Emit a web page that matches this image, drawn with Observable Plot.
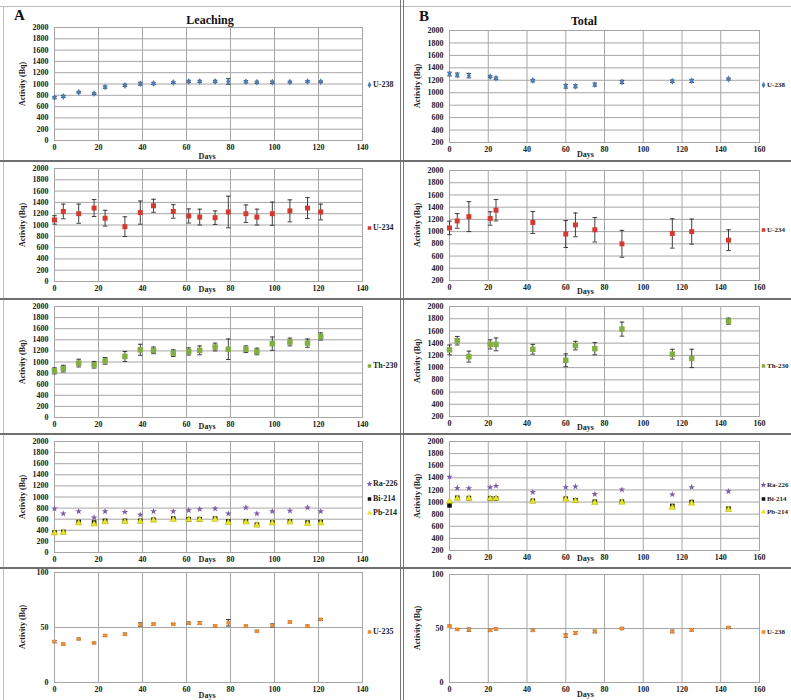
<!DOCTYPE html>
<html><head><meta charset="utf-8">
<script src="https://cdn.jsdelivr.net/npm/d3@7"></script>
<script src="https://cdn.jsdelivr.net/npm/@observablehq/plot@0.6"></script>
<style>
body{margin:0;background:#fff;}
#wrap{position:relative;width:791px;height:700px;overflow:hidden;background:#fff;font-family:"Liberation Serif","Times New Roman",serif;}
.t{position:absolute;font-weight:bold;color:#111;white-space:nowrap;line-height:1;}
.leg{position:absolute;font-size:8px;font-weight:bold;color:#222;white-space:nowrap;line-height:10px;transform:translateY(-50%);}
.leg svg{vertical-align:middle;margin-right:1px;}
.ylab{position:absolute;font-size:8px;font-weight:bold;color:#222;white-space:nowrap;transform:translate(-50%,-50%) rotate(-90deg);}
.days{position:absolute;font-size:8px;font-weight:bold;color:#222;transform:translate(-50%,-50%);}
.ln{position:absolute;}
</style></head><body><div id="wrap"></div>
<script>
// ---------- data ----------
const leachDays = [0,4,11,18,23,32,39,45,54,61,66,73,79,87,92,99,107,115,121];
const totalDays = [0,4,10,21,24,43,60,65,75,89,115,125,144];

const leachU238 = [760,780,855,830,945,975,1005,1010,1025,1045,1045,1045,1045,1040,1030,1030,1035,1045,1040];
const leachU238Err = [20,20,15,15,20,20,25,20,15,20,20,20,50,20,20,20,15,15,15];
const totalU238 = [1300,1285,1275,1258,1232,1195,1104,1104,1130,1173,1184,1190,1221];
const totalU238Err = [30,30,35,15,20,20,30,25,25,25,20,25,15];

const leachU234 = [1090,1240,1200,1300,1120,970,1220,1340,1240,1160,1140,1130,1230,1200,1140,1200,1250,1300,1230];
const leachU234Err = [75,130,170,150,140,175,205,115,120,125,140,120,280,155,140,205,195,185,140];
const totalU234 = [1060,1175,1245,1215,1350,1150,960,1110,1030,800,970,1000,860];
const totalU234Err = [110,120,245,110,175,180,220,195,200,220,240,205,170];

const leachTh230 = [840,880,980,950,1020,1100,1220,1210,1160,1190,1210,1270,1230,1230,1190,1330,1360,1340,1460];
const leachTh230Err = [55,60,70,60,60,90,100,60,60,65,80,70,185,60,60,120,70,75,65];
const totalTh230 = [1290,1440,1180,1380,1380,1300,1120,1360,1310,1630,1220,1150,1760];
const totalTh230Err = [80,70,90,75,105,80,105,70,100,115,80,150,50];

const leachRa226 = [790,700,740,630,740,730,680,740,740,760,780,790,700,810,700,740,750,810,740];
const leachBi214 = [360,370,550,540,570,570,570,590,610,600,600,610,560,560,500,540,560,540,550];
const leachPb214 = [350,360,530,510,550,555,560,580,590,590,590,595,540,545,490,530,545,520,530];
const totalRa226 = [1415,1230,1225,1245,1265,1165,1245,1255,1130,1205,1125,1245,1175];
const totalBi214 = [945,1070,1065,1060,1060,1020,1055,1030,1005,1005,935,1000,890];
const totalPb214 = [1010,1060,1060,1055,1060,1010,1045,1020,990,995,910,980,875];

const leachU235 = [37.2,34.8,39.6,36,42.7,43.9,52.7,53,53,54,54,51.5,54.3,51.2,46.6,51.8,54.9,51.2,57.3];
const leachU235Err = [1,1,0.8,0.8,0.8,1,1.5,1,0.8,1,1.2,1,3,1,0.8,1.5,1,1,0.8];
const totalU235 = [52.2,49.2,48.9,48.3,49.5,48.3,43.4,46,47.2,50,47.2,48.8,50.9];
const totalU235Err = [1,0.8,1.5,1,1,1,1.5,1.2,1.2,1,1.2,1.2,0.8];

const leachXTicks = [0,20,40,60,80,100,120,140];
const totalXTicks = [0,20,40,60,80,100,120,140,160];
const yTicksLeach = [0,200,400,600,800,1000,1200,1400,1600,1800,2000];
const yTicksTotal = [200,400,600,800,1000,1200,1400,1600,1800,2000];
const yTicksU235 = [0,50,100];

const titles = {A: "Leaching", B: "Total"};
const yLabel = "Activity (Bq)";
const xLabel = "Days";

// ---------- styles ----------
const C = {
  u238: "#4a7ebb", u234: "#d43a30", th230: "#84ad45", ra226: "#7b5ea7",
  bi214: "#111111", pb214: "#e6e62a", u235: "#f08a2e"
};
const capSymbol = {draw(ctx, size){ const r = Math.sqrt(size/Math.PI); ctx.moveTo(-r,0); ctx.lineTo(r,0); }};
const FONT = '"Liberation Serif","Times New Roman",serif';

const wrap = document.getElementById("wrap");
function add(html){ wrap.insertAdjacentHTML("beforeend", html); }

const cols = {
  A: {left: 0, width: 400, ml: 54, mr: 38, xMax: 140, xTicks: leachXTicks, days: leachDays, legX: 367, legFont: 8},
  B: {left: 405, width: 386, ml: 44, mr: 32, xMax: 160, xTicks: totalXTicks, days: totalDays, legX: 761, legFont: 7}
};

const rows = [
  {st: 8, sh: 150, A: {pt: 27, pb: 140, daysDy: 16}, B: {pt: 30, pb: 142, daysDy: 12},
   yA: [0,2000], yB: [200,2000], tA: yTicksLeach, tB: yTicksTotal,
   A_s: [{name:"U-238", v: leachU238, e: leachU238Err, c: C.u238, sym:"diamond", r:2.1}],
   B_s: [{name:"U-238", v: totalU238, e: totalU238Err, c: C.u238, sym:"diamond", r:2.1}],
   legA: [85], legB: [85]},
  {st: 163, sh: 134, A: {pt: 168, pb: 281, daysDy: 8}, B: {pt: 170, pb: 280, daysDy: 11},
   yA: [0,2000], yB: [200,2000], tA: yTicksLeach, tB: yTicksTotal,
   A_s: [{name:"U-234", v: leachU234, e: leachU234Err, c: C.u234, sym:"square", r:2.8}],
   B_s: [{name:"U-234", v: totalU234, e: totalU234Err, c: C.u234, sym:"square", r:2.8}],
   legA: [228], legB: [230]},
  {st: 300, sh: 132, A: {pt: 306, pb: 417, daysDy: 9}, B: {pt: 306, pb: 416, daysDy: 11},
   yA: [0,2000], yB: [200,2000], tA: yTicksLeach, tB: yTicksTotal,
   A_s: [{name:"Th-230", v: leachTh230, e: leachTh230Err, c: C.th230, sym:"square", r:3.1}],
   B_s: [{name:"Th-230", v: totalTh230, e: totalTh230Err, c: C.th230, sym:"square", r:3.1}],
   legA: [366], legB: [366]},
  {st: 435, sh: 130, A: {pt: 441, pb: 552, daysDy: 7}, B: {pt: 441, pb: 550, daysDy: 8},
   yA: [0,2000], yB: [200,2000], tA: yTicksLeach, tB: yTicksTotal,
   A_s: [{name:"Ra-226", v: leachRa226, c: C.ra226, sym:"star", r:2.1},
         {name:"Bi-214", v: leachBi214, c: C.bi214, sym:"square", r:2.6},
         {name:"Pb-214", v: leachPb214, c: C.pb214, sym:"triangle", r:2.4}],
   B_s: [{name:"Ra-226", v: totalRa226, c: C.ra226, sym:"star", r:2.1},
         {name:"Bi-214", v: totalBi214, c: C.bi214, sym:"square", r:2.6},
         {name:"Pb-214", v: totalPb214, c: C.pb214, sym:"triangle", r:2.4}],
   legA: [484,499,513], legB: [485,499,512]},
  {st: 569, sh: 131, A: {pt: 572, pb: 682, daysDy: 13}, B: {pt: 574, pb: 682, daysDy: 12},
   yA: [0,100], yB: [0,100], tA: yTicksU235, tB: yTicksU235,
   A_s: [{name:"U-235", v: leachU235, e: leachU235Err, c: C.u235, sym:"square", r:2.1}],
   B_s: [{name:"U-238", v: totalU235, e: totalU235Err, c: C.u235, sym:"square", r:2.1}],
   legA: [632], legB: [632]}
];

function panel(colKey, row){
  const col = cols[colKey];
  const geo = row[colKey];
  const yDom = colKey === "A" ? row.yA : row.yB;
  const yT = colKey === "A" ? row.tA : row.tB;
  const series = colKey === "A" ? row.A_s : row.B_s;
  const mt = geo.pt - row.st, mb = row.st + row.sh - geo.pb;
  const marks = [
    Plot.ruleX(col.xTicks, {stroke: "#a6a6a6", strokeWidth: 1}),
    Plot.ruleY(yT, {stroke: "#a6a6a6", strokeWidth: 1}),
    Plot.frame({stroke: "#a6a6a6"})
  ];
  for (const s of series) {
    const data = col.days.map((x, i) => ({x, y: s.v[i], lo: s.e ? s.v[i] - s.e[i] : null, hi: s.e ? s.v[i] + s.e[i] : null}));
    if (s.e) {
      marks.push(Plot.ruleX(data, {x: "x", y1: "lo", y2: "hi", stroke: "#2b2b2b", strokeWidth: 0.9}));
      marks.push(Plot.dot(data, {x: "x", y: "lo", symbol: capSymbol, r: 2.3, stroke: "#2b2b2b", fill: "none", strokeWidth: 0.9}));
      marks.push(Plot.dot(data, {x: "x", y: "hi", symbol: capSymbol, r: 2.3, stroke: "#2b2b2b", fill: "none", strokeWidth: 0.9}));
    }
    marks.push(Plot.dot(data, {x: "x", y: "y", symbol: s.sym, r: s.r, fill: s.c, stroke: s.sym === "triangle" ? "#b5b500" : "none", strokeWidth: 0.5}));
  }
  const chart = Plot.plot({
    width: col.width, height: row.sh,
    marginLeft: col.ml, marginRight: col.mr, marginTop: mt, marginBottom: mb,
    style: {fontFamily: FONT, fontSize: "8px", fontWeight: "bold", color: "#222", background: "transparent", overflow: "visible"},
    x: {domain: [0, col.xMax], ticks: col.xTicks, tickSize: 0, tickPadding: 4, tickFormat: "d", label: null},
    y: {domain: yDom, ticks: yT, tickSize: 0, tickPadding: 6, tickFormat: "d", label: null},
    marks
  });
  chart.setAttribute("font-family", FONT);
  chart.style.position = "absolute";
  chart.style.left = col.left + "px";
  chart.style.top = row.st + "px";
  wrap.appendChild(chart);

  const plotLeft = col.left + col.ml, plotRight = col.left + col.width - col.mr;
  add(`<div class="ylab" style="left:${plotLeft - 32}px;top:${(geo.pt + geo.pb)/2}px">${yLabel}</div>`);
  const daysX = colKey === "A" ? plotLeft + (plotRight - plotLeft) * 0.497 : plotLeft + (plotRight - plotLeft) * 0.44;
  add(`<div class="days" style="left:${daysX}px;top:${geo.pb + geo.daysDy}px">${xLabel}</div>`);

  const legY = colKey === "A" ? row.legA : row.legB;
  series.forEach((s, i) => {
    const p = d3.symbol(d3["symbol" + s.sym[0].toUpperCase() + s.sym.slice(1)], Math.PI * 2 * 2)();
    add(`<div class="leg" style="left:${col.legX}px;top:${legY[i]}px;font-size:${col.legFont}px"><svg width="5" height="6" viewBox="-2.5 -3 5 6"><path d="${p}" fill="${s.c}"/></svg>${s.name}</div>`);
  });
}

rows.forEach(r => { panel("A", r); panel("B", r); });

// titles
add(`<div class="t" style="left:14px;top:8px;font-size:15px;">A</div>`);
add(`<div class="t" style="left:210px;top:14px;font-size:12px;transform:translateX(-50%)">${titles.A}</div>`);
add(`<div class="t" style="left:419px;top:9px;font-size:15px;">B</div>`);
add(`<div class="t" style="left:584px;top:15px;font-size:12px;transform:translateX(-50%)">${titles.B}</div>`);

// panel borders
add(`<div class="ln" style="left:0;top:6px;width:791px;height:1px;background:#bdbdbd"></div>`);
add(`<div class="ln" style="left:3px;top:6px;width:1px;height:694px;background:#bdbdbd"></div>`);
add(`<div class="ln" style="left:400px;top:0;width:1px;height:700px;background:#777"></div>`);
add(`<div class="ln" style="left:403px;top:0;width:1px;height:700px;background:#777"></div>`);
[160, 298, 433, 567].forEach(y => {
  add(`<div class="ln" style="left:0;top:${y}px;width:791px;height:2px;background:#6f6f6f"></div>`);
});
</script>
</body></html>
